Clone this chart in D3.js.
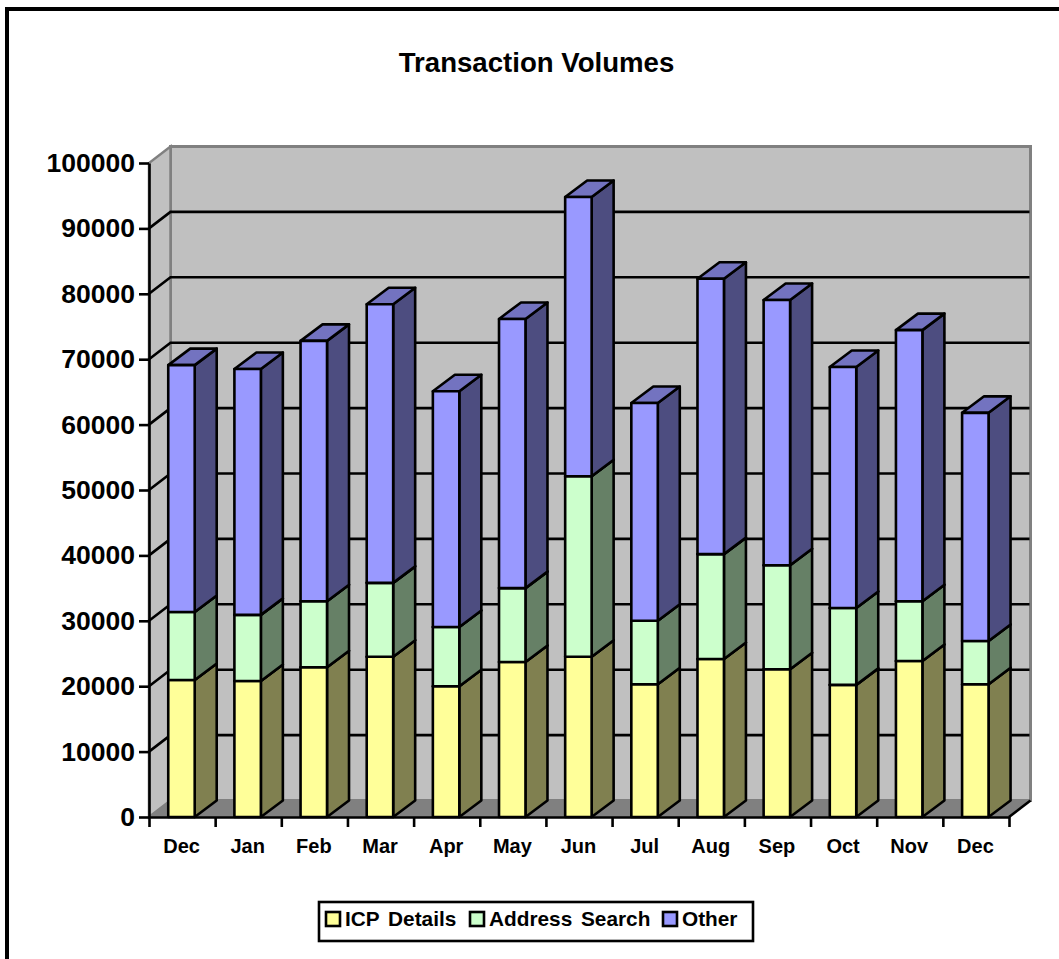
<!DOCTYPE html>
<html>
<head>
<meta charset="utf-8">
<script src="https://cdn.jsdelivr.net/npm/d3@7"></script>
<style>
  body { margin: 0; background: #fff; }
  text { font-family: "Liberation Sans", Arial, sans-serif; font-weight: bold; fill: #000; }
</style>
</head>
<body>
<div id="chart"></div>
<script>
const months = ["Dec", "Jan", "Feb", "Mar", "Apr", "May", "Jun", "Jul", "Aug", "Sep", "Oct", "Nov", "Dec"];
const icpDetails = [20950, 20800, 22900, 24500, 20000, 23700, 24500, 20300, 24150, 22600, 20200, 23850, 20300];
const addressSearch = [10400, 10100, 10100, 11300, 9050, 11300, 27600, 9700, 16050, 15900, 11750, 9150, 6600];
const other = [37750, 37600, 39800, 42600, 36050, 41150, 42700, 33300, 42100, 40550, 36850, 41450, 34900];
const seriesNames = ["ICP Details", "Address Search", "Other"];
const yTicks = [0, 10000, 20000, 30000, 40000, 50000, 60000, 70000, 80000, 90000, 100000];

const faceColors = ["#ffff99", "#ccffcc", "#9999ff"];
const sideColors = ["#808050", "#668066", "#4d4d80"];
const topColors = ["#c0c073", "#99c099", "#7373c0"];

const width = 1059, height = 959;
const margin = { top: 163, right: 50, bottom: 142, left: 149 };
// offset of the back wall from the front of the chart
const depthX = 21.5, depthY = 16.5;
const barDepthX = 22;
const lineW = 2.6;

const rows = months.map((m, i) => ({
  key: i, month: m,
  "ICP Details": icpDetails[i],
  "Address Search": addressSearch[i],
  "Other": other[i]
}));
const stacked = d3.stack().keys(seriesNames)(rows);

const x = d3.scaleBand()
  .domain(d3.range(months.length))
  .range([margin.left, width - margin.right]);
const y = d3.scaleLinear()
  .domain([0, 100000])
  .range([height - margin.bottom, margin.top]);

const barW = x.bandwidth() * 0.4;
const barX = i => x(i) + (x.bandwidth() - barW) / 2 - 0.6;

const svg = d3.select("#chart").append("svg")
  .attr("width", width)
  .attr("height", height)
  .style("display", "block");

// page frame, only the top and left edges show
svg.append("path")
  .attr("d", `M7,${height}V9H${width}`)
  .attr("fill", "none")
  .attr("stroke", "#000")
  .attr("stroke-width", 4);

svg.append("text")
  .attr("x", 536.5)
  .attr("y", 72)
  .attr("text-anchor", "middle")
  .attr("font-size", 27.6)
  .text("Transaction Volumes");

// walls
const x0 = margin.left, x1 = width - margin.right, y0 = y(0), y1 = y(100000);
const poly = pts => "M" + pts.map(p => p.join(",")).join("L") + "Z";

svg.append("path")
  .attr("d", poly([[x0 + depthX, y0 - depthY], [x1 + depthX, y0 - depthY], [x1 + depthX, y1 - depthY], [x0 + depthX, y1 - depthY]]))
  .attr("fill", "#c0c0c0")
  .attr("stroke", "#808080")
  .attr("stroke-width", 3);
svg.append("path")
  .attr("d", poly([[x0, y0], [x0 + depthX, y0 - depthY], [x0 + depthX, y1 - depthY], [x0, y1]]))
  .attr("fill", "#c0c0c0")
  .attr("stroke", "#808080")
  .attr("stroke-width", 2.5);
svg.append("path")
  .attr("d", poly([[x0, y0], [x1, y0], [x1 + depthX, y0 - depthY], [x0 + depthX, y0 - depthY]]))
  .attr("fill", "#808080")
  .attr("stroke", "#808080")
  .attr("stroke-width", 1);

// gridlines run along the left wall and across the back wall
svg.append("g").selectAll("path")
  .data(yTicks.filter(d => d > 0 && d < 100000))
  .join("path")
  .attr("d", d => `M${x0},${y(d)}L${x0 + depthX},${y(d) - depthY}H${x1 + depthX - 1}`)
  .attr("fill", "none")
  .attr("stroke", "#000")
  .attr("stroke-width", lineW);

// front edge of the floor, right side
svg.append("path")
  .attr("d", `M${x1},${y0}L${x1 + depthX},${y0 - depthY}`)
  .attr("stroke", "#000")
  .attr("stroke-width", lineW);

// bars, one column at a time so the 3d sides overlap properly
const cols = svg.append("g").selectAll("g")
  .data(rows)
  .join("g");

cols.each(function (row, i) {
  const col = d3.select(this);
  stacked.forEach((s, k) => {
    const bx = barX(i);
    const top = y(s[i][1]), bot = y(s[i][0]);
    const seg = col.append("g")
      .attr("stroke", "#000")
      .attr("stroke-width", lineW)
      .attr("stroke-linejoin", "round");
    seg.append("path")
      .attr("d", poly([[bx + barW, bot], [bx + barW + barDepthX, bot - depthY], [bx + barW + barDepthX, top - depthY], [bx + barW, top]]))
      .attr("fill", sideColors[k]);
    seg.append("path")
      .attr("d", poly([[bx, top], [bx + barDepthX, top - depthY], [bx + barW + barDepthX, top - depthY], [bx + barW, top]]))
      .attr("fill", topColors[k]);
    seg.append("rect")
      .attr("x", bx)
      .attr("y", top)
      .attr("width", barW)
      .attr("height", bot - top)
      .attr("fill", faceColors[k]);
  });
});

// axes
const yAxis = svg.append("g")
  .attr("transform", `translate(${x0},0)`)
  .call(d3.axisLeft(y).tickValues(yTicks).tickFormat(d3.format("d")).tickSize(10).tickSizeOuter(0).tickPadding(4));
const xAxis = svg.append("g")
  .attr("transform", `translate(0,${y0})`)
  .call(d3.axisBottom(d3.scaleLinear().domain([0, months.length]).range([x0, x1]))
    .ticks(months.length).tickFormat("").tickSize(10).tickSizeOuter(0));

[yAxis, xAxis].forEach(a => {
  a.selectAll("path, line").attr("stroke", "#000").attr("stroke-width", lineW);
  a.attr("font-family", null);
});
yAxis.selectAll("text").attr("font-size", 26.5);

svg.append("g").selectAll("text")
  .data(rows)
  .join("text")
  .attr("x", d => x(d.key) + x.bandwidth() / 2 - 0.5)
  .attr("y", 853)
  .attr("text-anchor", "middle")
  .attr("font-size", 20)
  .text(d => d.month);

// legend
const legendX = [326, 470, 663];
const legend = svg.append("g");
legend.append("rect")
  .attr("x", 319).attr("y", 902)
  .attr("width", 434).attr("height", 39)
  .attr("fill", "#fff")
  .attr("stroke", "#000")
  .attr("stroke-width", lineW);
const items = legend.selectAll("g")
  .data(seriesNames)
  .join("g")
  .attr("transform", (d, i) => `translate(${legendX[i]},912)`);
items.append("rect")
  .attr("width", 14).attr("height", 14)
  .attr("fill", (d, i) => faceColors[i])
  .attr("stroke", "#000")
  .attr("stroke-width", lineW);
items.append("text")
  .attr("x", 19)
  .attr("y", 14)
  .attr("font-size", 20.8)
  .attr("word-spacing", 3)
  .text(d => d);
</script>
</body>
</html>
